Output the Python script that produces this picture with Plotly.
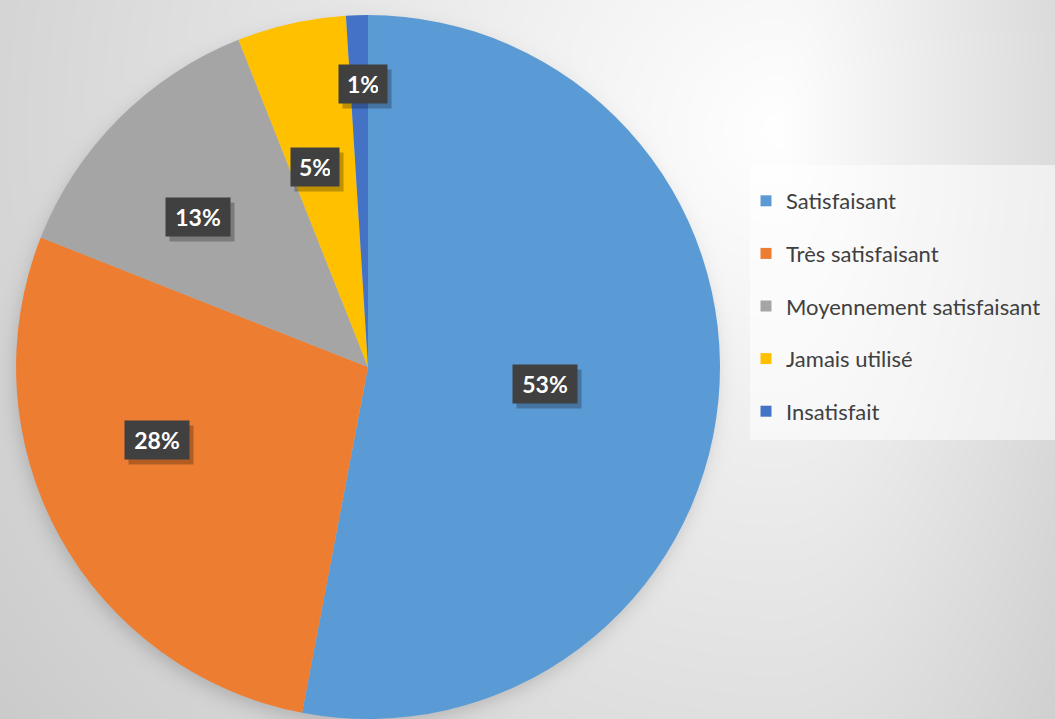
import base64
import struct
import zlib

import numpy as np
import plotly.graph_objects as go

# ---------------- data ----------------
categories = ["Satisfaisant", "Très satisfaisant", "Moyennement satisfaisant",
              "Jamais utilisé", "Insatisfait"]
values = [53, 28, 13, 5, 1]
colors = ["#5B9BD5", "#ED7D31", "#A5A5A5", "#FFC000", "#4472C4"]

# ---------------- style / layout constants ----------------
W, H = 1055, 719
FONT = "Lato, 'Open Sans', sans-serif"
DOM_X = [0.0152, 0.6825]
DOM_Y = [0.0, 0.979]
# label placement (fraction of radius, angle tweak in degrees)
LABEL_FRAC = [0.505, 0.634, 0.644, 0.589, 0.804]
LABEL_DANG = [0.0, 9.7, -3.6, -2.2, 0.7]
PAD = 9

# pie geometry in pixels (as plotly computes it from the domain)
dom_w = (DOM_X[1] - DOM_X[0]) * W
dom_h = (DOM_Y[1] - DOM_Y[0]) * H
R = min(dom_w, dom_h) / 2
CX = (DOM_X[0] + DOM_X[1]) / 2 * W
CY = H - (DOM_Y[0] + DOM_Y[1]) / 2 * H


# ---------------- background gradient image ----------------
def png_gray(arr):
    h, w = arr.shape
    raw = b"".join(b"\x00" + arr[i].tobytes() for i in range(h))

    def chunk(tag, data):
        c = struct.pack(">I", len(data)) + tag + data
        return c + struct.pack(">I", zlib.crc32(tag + data) & 0xFFFFFFFF)

    return (b"\x89PNG\r\n\x1a\n"
            + chunk(b"IHDR", struct.pack(">IIBBBBB", w, h, 8, 0, 0, 0, 0))
            + chunk(b"IDAT", zlib.compress(raw, 9))
            + chunk(b"IEND", b""))


S = 2  # downsample factor
gw, gh = W // S + 1, H // S + 1
yy, xx = np.mgrid[0:gh, 0:gw].astype(float) * S
gcx, gcy = 780.0, 130.0
dx = xx - gcx
dx = np.where(dx > 0, dx * 2.4, dx)
dy = yy - gcy
d = np.sqrt(dx ** 2 + dy ** 2)
val = 255.0 - np.clip(0.053 * d, 0, 60)
# soft shadow of the pie (slightly offset)
ds = np.sqrt((xx - (CX - 3)) ** 2 + (yy - (CY + 6)) ** 2) - R
shadow = 34.0 / (1.0 + np.exp(ds / 5.0))
val = val - shadow
img = np.clip(val, 0, 255).astype(np.uint8)
bg_uri = "data:image/png;base64," + base64.b64encode(png_gray(img)).decode()

# ---------------- figure ----------------
fig = go.Figure()
fig.add_trace(go.Pie(
    labels=categories, values=values,
    marker=dict(colors=colors, line=dict(width=0)),
    sort=False, direction="clockwise", rotation=0,
    textinfo="none", hoverinfo="label+percent",
    showlegend=False,
    domain=dict(x=DOM_X, y=DOM_Y),
))

# legend entries (one per category, same colors)
for i, (cat, col) in enumerate(zip(categories, colors)):
    fig.add_trace(go.Scatter(
        x=[None], y=[None], mode="markers", name=cat,
        legendgroup=f"g{i}",
        marker=dict(symbol="square", size=11, color=col),
        showlegend=True,
    ))

# data labels
total = float(sum(values))
cum = 0.0
annotations = []
for i, v in enumerate(values):
    mid = (cum + v / 2) / total * 360.0 + LABEL_DANG[i]
    cum += v
    th = np.radians(mid)
    px = CX + LABEL_FRAC[i] * R * np.sin(th)
    py = CY - LABEL_FRAC[i] * R * np.cos(th)
    label = f"{round(v / total * 100)}%"
    bw = 16 * len(label) - 2
    common = dict(x=px / W, y=1 - py / H, xref="paper", yref="paper",
                  xanchor="center", yanchor="middle", width=bw, height=20,
                  showarrow=False, borderpad=PAD)
    annotations.append(dict(text=" ", bgcolor="rgba(0,0,0,0.25)",
                            xshift=4, yshift=-5,
                            font=dict(family=FONT, size=23), **common))
    annotations.append(dict(text=f"<b>{label}</b>", bgcolor="#404040",
                            font=dict(family=FONT, size=23, color="white"),
                            **common))

fig.update_layout(
    width=W, height=H,
    margin=dict(l=0, r=0, t=0, b=0),
    paper_bgcolor="#e6e6e6",
    plot_bgcolor="rgba(0,0,0,0)",
    xaxis=dict(visible=False, domain=[0.99, 1.0]),
    yaxis=dict(visible=False, domain=[0.99, 1.0]),
    images=[dict(source=bg_uri, xref="paper", yref="paper", x=0, y=1,
                 sizex=1, sizey=1, sizing="stretch", xanchor="left",
                 yanchor="top", layer="below")],
    shapes=[dict(type="rect", xref="paper", yref="paper",
                 x0=750 / W, x1=1.0, y0=1 - 440 / H, y1=1 - 165 / H,
                 fillcolor="rgba(255,255,255,0.55)", line=dict(width=0),
                 layer="below")],
    legend=dict(x=746 / W, xanchor="left", y=1 - 180 / H, yanchor="top",
                bgcolor="rgba(0,0,0,0)", tracegroupgap=21,
                font=dict(family=FONT, size=22, color="#404040"),
                itemsizing="trace"),
    annotations=annotations,
    showlegend=True,
)

fig.write_html("out.html",
               config={"displayModeBar": False},
               post_script="document.body.style.margin='0';"
                           "document.body.style.overflow='hidden';")
